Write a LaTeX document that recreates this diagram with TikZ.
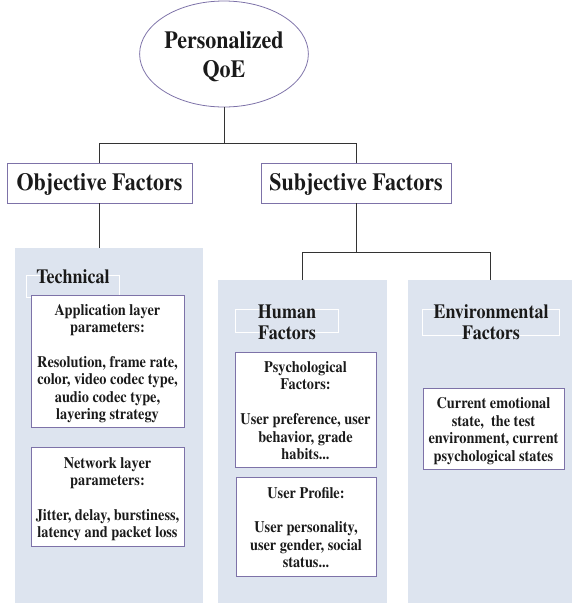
\documentclass[tikz,border=0pt]{standalone}
\usepackage[T1]{fontenc}
\usepackage{times}
\usepackage{graphicx}
\usetikzlibrary{shapes.geometric}
\definecolor{panelc}{HTML}{DDE4EF}
\definecolor{boxc}{HTML}{7D72A8}
\definecolor{linec}{HTML}{333333}
\definecolor{txtc}{HTML}{1A1A1A}
\newcommand\vstr[1]{\raisebox{-3pt}[\height][\depth]{\scalebox{1}[1.12]{\begin{tabular}{@{}c@{}}#1\end{tabular}}}}
\begin{document}
\begin{tikzpicture}[x=1pt,y=-1pt,
  every node/.style={text=txtc},
  panel/.style={fill=panelc, draw=none, inner sep=0, rectangle},
  topbox/.style={draw=boxc, fill=white, line width=0.8pt, inner sep=0,
    font=\fontsize{22}{22}\selectfont\bfseries},
  ibox/.style={draw=boxc, fill=white, line width=0.8pt, inner sep=0,
    font=\fontsize{14.3}{15.5}\selectfont\bfseries},
  lblrect/.style={draw=white, line width=0.6pt, fill=none, inner sep=0},
  lbltext/.style={inner sep=0, font=\fontsize{18}{18.3}\selectfont\bfseries},
  conn/.style={draw=linec, line width=0.9pt}
]
\useasboundingbox (0,0) rectangle (572,603);

% root
\node[ellipse, draw=boxc, line width=0.8pt, minimum width=140, minimum height=106, inner sep=0,
  font=\fontsize{22}{25.8}\selectfont\bfseries] (qoe) at (224,54) {\vstr{Personalized\\QoE}};

% first level
\node[topbox, minimum width=185, minimum height=40] (obj) at (99.5,183) {\vstr{Objective Factors}};
\node[topbox, minimum width=190, minimum height=40] (subj) at (356,183) {\vstr{Subjective Factors}};

% panels
\node[panel, minimum width=188, minimum height=355] (pl) at (109,425.5) {};
\node[panel, minimum width=169, minimum height=323] (pm) at (302.5,441.5) {};
\node[panel, minimum width=164, minimum height=323] (pr) at (490,441.5) {};

% connectors
\coordinate (bus1) at (224,143);
\draw[conn] (qoe.south) -- (bus1);
\draw[conn] (bus1) -| (obj.north);
\draw[conn] (bus1) -| (subj.north);
\draw[conn] (obj.south) -- (obj.south |- pl.north);
\coordinate (bus2) at (356,252);
\draw[conn] (subj.south) -- (bus2);
\draw[conn] (bus2) -| (pm.north);
\draw[conn] (bus2) -| (pr.north);

% label frames and headings
\node[lblrect, minimum width=93, minimum height=22] (techr) at (72.5,286) {};
\node[lbltext] (tech) at (73,276) {\vstr{Technical}};
\node[lblrect, minimum width=103, minimum height=23] (humr) at (286.5,320.5) {};
\node[lbltext] (hum) at (287,322) {\vstr{Human\\Factors}};
\node[lblrect, minimum width=137, minimum height=26] (envr) at (490.5,322) {};
\node[lbltext] (env) at (491,322) {\vstr{Environmental\\Factors}};

% inner boxes
\node[ibox, minimum width=153, minimum height=132] (app) at (107.5,361)
  {\vstr{Application layer\\parameters:\\[15.5pt]Resolution, frame rate,\\color, video codec type,\\audio codec type,\\layering strategy}};
\node[ibox, minimum width=153, minimum height=99] (net) at (107.5,496.5)
  {\vstr{Network layer\\parameters:\\[15.5pt]Jitter, delay, burstiness,\\latency and packet loss}};
\node[ibox, minimum width=141, minimum height=115] (psy) at (305.5,409.5)
  {\vstr{Psychological\\Factors:\\[15.5pt]User preference, user\\behavior, grade\\habits...}};
\node[ibox, minimum width=140, minimum height=99] (prof) at (306,526.5)
  {\vstr{User Profile:\\[15.5pt]User personality,\\user gender, social\\status...}};
\node[ibox, minimum width=141, minimum height=81] (cur) at (493.5,428.5)
  {\vstr{Current emotional\\state,~ the test\\environment, current\\psychological states}};
\end{tikzpicture}
\end{document}
